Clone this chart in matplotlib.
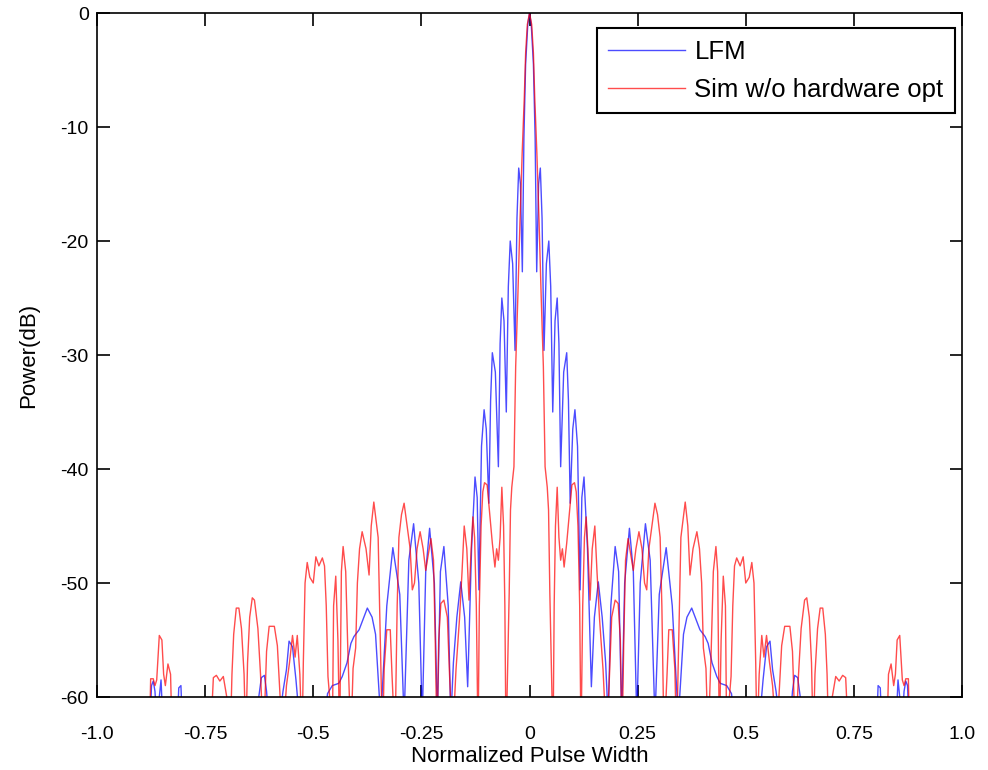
import numpy as np
import matplotlib
matplotlib.use('Agg')
import matplotlib.pyplot as plt

plt.rcParams['font.family'] = ['Liberation Sans', 'DejaVu Sans']
plt.rcParams['axes.unicode_minus'] = False

# values, positive half (the response is symmetric about 0)
lfm_x = [0.0, 0.004, 0.009, 0.013, 0.0166, 0.021, 0.025, 0.029, 0.0335, 0.039,
         0.0446, 0.049, 0.0537, 0.059, 0.064, 0.068, 0.072, 0.079, 0.086, 0.090,
         0.094, 0.100, 0.105, 0.111, 0.117, 0.121, 0.126, 0.134, 0.143, 0.150,
         0.159, 0.168, 0.176, 0.182, 0.188, 0.198, 0.206, 0.213, 0.220, 0.231,
         0.240, 0.248, 0.256, 0.268, 0.279, 0.290, 0.300, 0.316, 0.330, 0.344,
         0.356, 0.364, 0.375, 0.386, 0.394, 0.406, 0.413, 0.422, 0.433, 0.441,
         0.456, 0.467, 0.474, 0.532, 0.540, 0.548, 0.556, 0.562, 0.570, 0.578,
         0.603, 0.608, 0.613, 0.620, 0.626, 0.630, 0.803, 0.806, 0.811, 0.814,
         0.848, 0.852, 0.856, 0.862, 0.866, 0.870, 0.874, 0.877]
lfm_db = [0, -1.0, -4.5, -11, -22.7, -15, -13.6, -18, -29.6, -22,
          -20, -24, -35, -27, -25, -29, -39.8, -31.5, -29.8, -34,
          -43, -36.5, -34.8, -38, -50.6, -42.5, -40.7, -47, -59.1, -53,
          -49.9, -53, -57, -62, -52, -46.8, -49, -62, -50, -45.2,
          -49, -62, -50, -44.8, -48, -62, -51, -46.9, -52, -62,
          -54.5, -53, -52.2, -53.3, -54.1, -54.7, -55.3, -57, -58.2, -58.8,
          -59, -59.7, -62, -62, -58.5, -55.6, -55.1, -57.6, -59.5, -62,
          -62, -59.5, -58.1, -58.3, -60, -62, -62, -59, -59.2, -62,
          -62, -58.5, -60, -62, -59.5, -58.6, -59, -62]

sim_x = [0.0, 0.005, 0.009, 0.012, 0.017, 0.022, 0.027, 0.032, 0.036, 0.041,
         0.044, 0.047, 0.052, 0.054,
         0.057, 0.060, 0.064, 0.068, 0.072, 0.076, 0.080, 0.086, 0.092, 0.098,
         0.104, 0.108, 0.112, 0.116, 0.119,
         0.123, 0.127, 0.131, 0.135, 0.140, 0.145, 0.151, 0.156, 0.162, 0.170, 0.178,
         0.185, 0.190, 0.198, 0.205, 0.210, 0.214,
         0.218, 0.222, 0.228, 0.234, 0.240, 0.246, 0.253, 0.260, 0.266, 0.271,
         0.276, 0.283, 0.290, 0.296, 0.302, 0.306, 0.311,
         0.318, 0.322, 0.330, 0.336, 0.340,
         0.345, 0.350, 0.360, 0.366, 0.371, 0.378, 0.387, 0.393, 0.398, 0.402,
         0.408, 0.413,
         0.420, 0.425, 0.431, 0.435, 0.439,
         0.443, 0.448, 0.453, 0.456,
         0.460, 0.466, 0.470, 0.474, 0.479, 0.487, 0.494, 0.500, 0.508, 0.514,
         0.519, 0.523, 0.526,
         0.531, 0.537, 0.542, 0.548, 0.555, 0.562, 0.571,
         0.578, 0.583, 0.590, 0.602, 0.608, 0.615,
         0.622, 0.628, 0.636, 0.641, 0.647, 0.652, 0.656,
         0.660, 0.666, 0.672, 0.678, 0.684, 0.688, 0.692,
         0.700, 0.708, 0.716, 0.724, 0.731, 0.738,
         0.826, 0.830, 0.836, 0.842, 0.846, 0.850, 0.856, 0.862, 0.866, 0.870,
         0.876, 0.879]
sim_db = [0, -1.0, -3.5, -7.3, -12.3, -18.2, -24.9, -31.0, -39.8, -41.6,
          -43.6, -50.9, -60, -66,
          -52, -45, -41.6, -46, -48, -47, -48.6, -46.5, -44, -41.4,
          -41.2, -42, -45, -52, -64,
          -52, -46, -44.2, -47, -51.5, -47, -45, -49, -53.2, -57.6, -64,
          -58, -53, -51.5, -51.8, -55, -64,
          -55, -48, -46.1, -47.5, -48.9, -47, -45.5, -47, -50, -50.6,
          -47, -45, -43, -44, -46, -52, -64,
          -58, -54.1, -54.1, -57.5, -64,
          -55, -46, -42.9, -45, -49.3, -47, -45.5, -47, -50, -55.7,
          -57.5, -64,
          -56, -49, -46.8, -49, -64,
          -55, -49.4, -52, -64,
          -61, -58.2, -52, -48.5, -47.8, -48.5, -47.7, -50, -49.5, -48.2,
          -50, -57, -64,
          -58, -54.6, -56.5, -54.6, -57, -59, -64,
          -59, -55.5, -53.8, -53.8, -56, -64,
          -58, -54, -51.5, -51.3, -53, -57, -64,
          -58, -54, -52.2, -52.2, -54.5, -58, -64,
          -60, -58.2, -58.6, -58.1, -58.3, -64,
          -64, -58, -57.1, -59, -58, -55, -54.6, -58.5, -59, -58.4,
          -58.4, -64]

x_ticks = [-1.0, -0.75, -0.5, -0.25, 0, 0.25, 0.5, 0.75, 1.0]
x_tick_labels = ['-1.0', '-0.75', '-0.5', '-0.25', '0', '0.25', '0.5', '0.75', '1.0']
y_ticks = [-60, -50, -40, -30, -20, -10, 0]


def mirror(x, y):
    x = np.asarray(x, dtype=float)
    y = np.asarray(y, dtype=float)
    return np.concatenate([-x[:0:-1], x]), np.concatenate([y[:0:-1], y])


fig = plt.figure(figsize=(9.88, 7.70), dpi=100)
ax = fig.add_axes([0.0982, 0.0948, 0.8755, 0.8883])

lx, ly = mirror(lfm_x, lfm_db)
sx, sy = mirror(sim_x, sim_db)
ax.plot(lx, ly, color='blue', alpha=0.7, linewidth=1.0, label='LFM')
ax.plot(sx, sy, color='red', alpha=0.7, linewidth=1.0, label='Sim w/o hardware opt')

ax.set_xlim(-1, 1)
ax.set_ylim(-60, 0)
ax.set_xticks(x_ticks)
ax.set_xticklabels(x_tick_labels)
ax.set_yticks(y_ticks)
ax.tick_params(direction='in', top=True, right=True, length=9, width=1.2,
               labelsize=14)
ax.tick_params(axis='x', pad=21)
ax.tick_params(axis='y', pad=6)
for sp in ax.spines.values():
    sp.set_linewidth(1.2)

ax.set_xlabel('Normalized Pulse Width', fontsize=16, labelpad=2)
ax.set_ylabel('Power(dB)', fontsize=16, labelpad=15)

leg = ax.legend(loc='upper right', bbox_to_anchor=(0.992, 0.978), borderaxespad=0,
                fontsize=18.5, fancybox=False, framealpha=1, edgecolor='black',
                handlelength=3.0, handletextpad=0.35, borderpad=0.45, labelspacing=0.55)
leg.get_frame().set_linewidth(1.5)

plt.savefig('out.png', dpi=100)
